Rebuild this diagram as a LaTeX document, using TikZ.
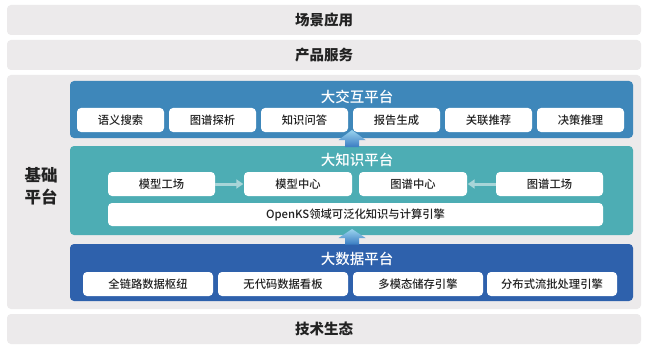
\documentclass[tikz,border=0pt]{standalone}
\usepackage{fontspec}
\setmainfont{Noto Sans CJK SC}
\newfontfamily\medfont{Noto Sans CJK SC Medium}
\usetikzlibrary{arrows.meta}
\definecolor{bargray}{HTML}{ECEAEB}
\definecolor{interblue}{HTML}{3E87BA}
\definecolor{knowteal}{HTML}{4DADB4}
\definecolor{datablue}{HTML}{2E61AC}
\definecolor{txt}{HTML}{222222}
\definecolor{harrowc}{HTML}{A8D5D8}
\definecolor{barrowtop}{HTML}{9AD3EE}
\definecolor{barrowbot}{HTML}{3A7CC2}
\tikzset{
  bar/.style={fill=bargray, draw=none, rounded corners=4pt, minimum width=634pt, text=txt, font=\fontsize{14.5}{14.5}\selectfont\bfseries, inner sep=0pt},
  platform/.style={draw=none, rounded corners=4pt, minimum width=563pt, minimum height=57pt, inner sep=0pt},
  ptitle/.style={text=white, font=\fontsize{14.5}{14.5}\selectfont\medfont, inner sep=0pt},
  subbox/.style={fill=white, draw=none, rounded corners=4pt, minimum height=24pt, text=txt, font=\fontsize{11.3}{11.3}\selectfont\medfont, inner sep=0pt},
  harrow/.style={draw=harrowc, line width=3pt, -{Triangle[length=7pt,width=9pt]}, shorten >=0.5pt},
}
\begin{document}
\begin{tikzpicture}[x=1pt,y=-1pt]
\useasboundingbox (0,0) rectangle (647,350);
\fill[white] (0,0) rectangle (647,350);
% outer bars
\node[bar, minimum height=30pt] (scene) at (324,20) {场景应用};
\node[bar, minimum height=30pt] (product) at (324,55) {产品服务};
\node[bar, minimum height=234pt] (base) at (324,192) {};
\node[bar, minimum height=30pt] (tech) at (324,329) {技术生态};
\node[text=txt, font=\fontsize{16.5}{21.5}\selectfont\bfseries, align=center, inner sep=0pt] (baselabel) at (41,186) {基础\\平台};
% interaction platform
\node[platform, fill=interblue] (inter) at (351.5,109.5) {};
\node[ptitle] (intertitle) at (357,97) {大交互平台};
\foreach \n/\x/\t in {i1/120.5/语义搜索, i2/212.5/图谱探析, i3/304.5/知识问答, i4/396.5/报告生成, i5/488.5/关联推荐, i6/580.5/决策推理}
  \node[subbox, minimum width=87pt] (\n) at (\x,120) {\t};
% knowledge platform
\node[platform, fill=knowteal, minimum height=89pt] (know) at (351.5,190.5) {};
\node[ptitle] (knowtitle) at (357,160) {大知识平台};
\node[subbox, minimum width=107pt] (mf) at (161.5,184) {模型工场};
\node[subbox, minimum width=108pt] (mc) at (298,184) {模型中心};
\node[subbox, minimum width=108pt] (gc) at (413,184) {图谱中心};
\node[subbox, minimum width=107pt] (gf) at (549.5,184) {图谱工场};
\node[subbox, minimum width=495pt, minimum height=23pt] (openks) at (355.5,214.5) {OpenKS领域可泛化知识与计算引擎};
\draw[harrow] (mf.east) -- (mc.west);
\draw[harrow] (gf.west) -- (gc.east);
% data platform
\node[platform, fill=datablue] (data) at (351.5,272.5) {};
\node[ptitle] (datatitle) at (357,259) {大数据平台};
\foreach \n/\x/\t in {d1/148/全链路数据枢纽, d2/283/无代码数据看板, d3/418/多模态储存引擎, d4/552/分布式流批处理引擎}
  \node[subbox, minimum width=130pt] (\n) at (\x,284) {\t};
% block arrows
\shade[top color=barrowtop, bottom color=barrowbot]
  (352,130) -- (365.5,140) -- (359,140) -- (359,147) -- (345,147) -- (345,140) -- (338.5,140) -- cycle;
\shade[top color=barrowtop, bottom color=barrowbot]
  (352,229) -- (365.5,238) -- (359,238) -- (359,244.5) -- (345,244.5) -- (345,238) -- (338.5,238) -- cycle;
\end{tikzpicture}
\end{document}
